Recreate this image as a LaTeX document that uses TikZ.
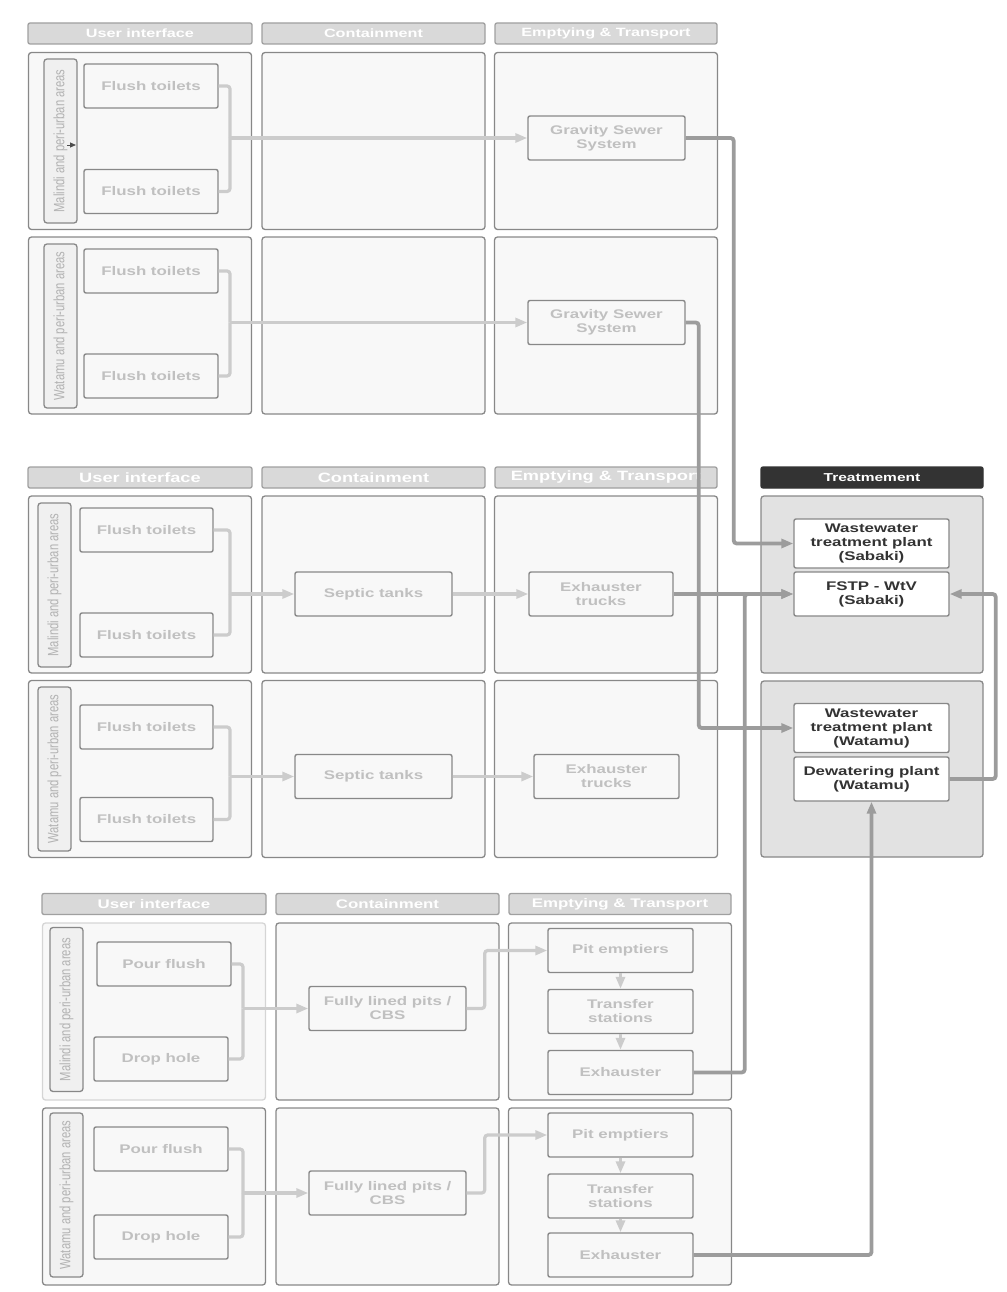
\documentclass[tikz,border=0pt]{standalone}
\usepackage{fontspec}
\setmainfont{Liberation Sans}
\newfontfamily\wideface{Liberation Sans}[FakeStretch=1.35]
\newfontfamily\narrowface{Liberation Sans}[FakeStretch=0.75]
\usetikzlibrary{arrows.meta, calc}
\definecolor{lanefill}{HTML}{F8F8F8}
\definecolor{laneline}{HTML}{888888}
\definecolor{headfill}{HTML}{D9D9D9}
\definecolor{boxtext}{HTML}{C0C0C0}
\definecolor{flowlight}{HTML}{CCCCCC}
\definecolor{flowdark}{HTML}{9C9C9C}
\definecolor{treatfill}{HTML}{E2E2E2}
\definecolor{treathead}{HTML}{333333}

\begin{document}
\begin{tikzpicture}[x=1pt, y=-1pt,
  header/.style={draw=laneline!80, fill=headfill, rounded corners=2pt, line width=1.3pt,
    minimum height=21pt, inner sep=0pt, text=white},
  lane/.style={draw=laneline, fill=lanefill, rounded corners=3pt, line width=1.3pt,
    minimum width=223pt, minimum height=177pt, inner sep=0pt},
  arealabel/.style={draw=laneline, fill=gray!12, rounded corners=3pt, line width=1.3pt,
    minimum width=164pt, minimum height=33pt, inner sep=0pt, rotate=90, text=gray!60,
    font=\narrowface\fontsize{15}{15}\selectfont},
  unit/.style={draw=laneline, fill=lanefill, rounded corners=2pt, line width=1.4pt,
    minimum width=134pt, minimum height=44pt, inner sep=0pt, align=center, text=boxtext,
    font=\wideface\bfseries\fontsize{12.5}{14}\selectfont},
  plant/.style={unit, fill=white, text=black!80, minimum width=155pt},
  flow/.style={color=flowlight, line width=3.2pt, rounded corners=3pt},
  feed/.style={color=flowdark, line width=3.8pt, rounded corners=3pt},
  tip/.style={-{Triangle[length=12pt,width=9pt]}}
]
  \useasboundingbox (0,0) rectangle (1006,1292);

  % headers and lanes of the three blocks
  \foreach \s/\dx/\hy/\ra/\rb/\hs/\uc in {1/0/33.5/141/325.5/12/laneline,
      2/0/477.5/584.5/769/13.5/laneline, 3/14/904/1011.5/1196.5/12.5/laneline!35} {
    \node[header, minimum width=224pt, font=\wideface\bfseries\fontsize{\hs}{16}\selectfont]
      (hu\s) at (140+\dx,\hy) {User interface};
    \node[header, minimum width=223pt, font=\wideface\bfseries\fontsize{\hs}{16}\selectfont]
      (hc\s) at (373.5+\dx,\hy) {Containment};
    \node[header, minimum width=222pt, font=\wideface\bfseries\fontsize{\hs}{16}\selectfont]
      (he\s) at (606+\dx,\hy) {Emptying \& Transport};
    \node[lane, draw=\uc] (ui\s-1) at (140+\dx,\ra) {};
    \node[lane] (ct\s-1) at (373.5+\dx,\ra) {};
    \node[lane] (et\s-1) at (606+\dx,\ra) {};
    \node[lane] (ui\s-2) at (140+\dx,\rb) {};
    \node[lane] (ct\s-2) at (373.5+\dx,\rb) {};
    \node[lane] (et\s-2) at (606+\dx,\rb) {};
  }

  % area labels
  \foreach \s/\ax/\ya/\yb in {1/60.5/141/326, 2/54.5/585/769, 3/66.5/1009.5/1195} {
    \node[arealabel] (ar\s-1) at (\ax,\ya) {Malindi and peri-urban areas};
    \node[arealabel] (ar\s-2) at (\ax,\yb) {Watamu and peri-urban areas};
  }
  \coordinate (mk1) at (67,145);
  \coordinate (mk2) at (76,145);
  \draw[-{Triangle[length=6pt,width=5pt]}, black!70, line width=0.8pt] (mk1) -- (mk2);

  % treatment block
  \node[header, fill=treathead, draw=treathead, minimum width=222pt,
        font=\wideface\bfseries\fontsize{11.5}{14}\selectfont] (th) at (872,477.5) {Treatmement};
  \node[lane, fill=treatfill, minimum width=222pt] (tr1) at (872,584.5) {};
  \node[lane, fill=treatfill, minimum width=222pt, minimum height=176pt] (tr2) at (872,769) {};
  \node[plant, minimum height=49pt] (wws) at (871.5,543.5) {Wastewater\\treatment plant\\(Sabaki)};
  \node[plant] (fstp) at (871.5,594) {FSTP - WtV\\(Sabaki)};
  \node[plant, minimum height=49pt] (wwt) at (871.5,728) {Wastewater\\treatment plant\\(Watamu)};
  \node[plant] (dwp) at (871.5,779) {Dewatering plant\\(Watamu)};

  % sewered block
  \node[unit] (ft1-1a) at (151,86) {Flush toilets};
  \node[unit] (ft1-1b) at (151,191.5) {Flush toilets};
  \node[unit] (ft1-2a) at (151,271) {Flush toilets};
  \node[unit] (ft1-2b) at (151,376) {Flush toilets};
  \node[unit, minimum width=157pt] (gs1) at (606.5,138) {Gravity Sewer\\System};
  \node[unit, minimum width=157pt] (gs2) at (606.5,322.5) {Gravity Sewer\\System};

  % septic tank block
  \node[unit, minimum width=133pt] (ft2-1a) at (146.5,530) {Flush toilets};
  \node[unit, minimum width=133pt] (ft2-1b) at (146.5,635) {Flush toilets};
  \node[unit, minimum width=133pt] (ft2-2a) at (146.5,727) {Flush toilets};
  \node[unit, minimum width=133pt] (ft2-2b) at (146.5,819.5) {Flush toilets};
  \node[unit, minimum width=157pt] (st1) at (373.5,594) {Septic tanks};
  \node[unit, minimum width=157pt] (st2) at (373.5,776.5) {Septic tanks};
  \node[unit, minimum width=144pt] (tk1) at (601,594) {Exhauster\\trucks};
  \node[unit, minimum width=145pt] (tk2) at (606.5,776.5) {Exhauster\\trucks};

  % pit block
  \node[unit] (pf3-1) at (164,964) {Pour flush};
  \node[unit] (dh3-1) at (161,1059) {Drop hole};
  \node[unit] (pf3-2) at (161,1149) {Pour flush};
  \node[unit] (dh3-2) at (161,1237) {Drop hole};
  \node[unit, minimum width=157pt] (cbs1) at (387.5,1008.5) {Fully lined pits /\\CBS};
  \node[unit, minimum width=157pt] (cbs2) at (387.5,1193) {Fully lined pits /\\CBS};
  \foreach \r/\ya/\yb/\yc in {1/950.5/1011.5/1072.5, 2/1135/1196/1255} {
    \node[unit, minimum width=145pt] (pe\r) at (620.5,\ya) {Pit emptiers};
    \node[unit, minimum width=145pt] (ts\r) at (620.5,\yb) {Transfer\\stations};
    \node[unit, minimum width=145pt] (ex\r) at (620.5,\yc) {Exhauster};
  }

  % user interface to containment / transport
  \foreach \a/\b/\t/\jx in {ft1-1a/ft1-1b/gs1/230, ft1-2a/ft1-2b/gs2/230,
      ft2-1a/ft2-1b/st1/230, ft2-2a/ft2-2b/st2/230, pf3-1/dh3-1/cbs1/243, pf3-2/dh3-2/cbs2/243} {
    \coordinate (j-\t) at (\jx,0 |- \t.west);
    \draw[flow] (\a.east) -| (j-\t);
    \draw[flow] (\b.east) -| (j-\t);
    \draw[flow, tip] (j-\t) -- (\t.west);
  }
  \draw[flow, tip] (st1) -- (tk1);
  \draw[flow, tip] (st2) -- (tk2);
  \foreach \r in {1,2} {
    \draw[flow, tip] (cbs\r.east) -- ++(18,0) |- (pe\r.west);
    \draw[flow, tip] (pe\r) -- (ts\r);
    \draw[flow, tip] (ts\r) -- (ex\r);
  }

  % to treatment
  \draw[feed, tip] (gs1.east) -- ++(48,0) |- (wws.west);
  \draw[feed, tip] (gs2.east) -- ++(13,0) |- (wwt.west);
  \draw[feed, tip] (tk1) -- (fstp);
  \draw[feed, tip] (ex1.east) -- ++(51,0) |- (fstp.west);
  \draw[feed, tip] (ex2.east) -| (dwp.south);
  \draw[feed, tip] (dwp.east) -- ++(46,0) |- (fstp.east);
\end{tikzpicture}
\end{document}
